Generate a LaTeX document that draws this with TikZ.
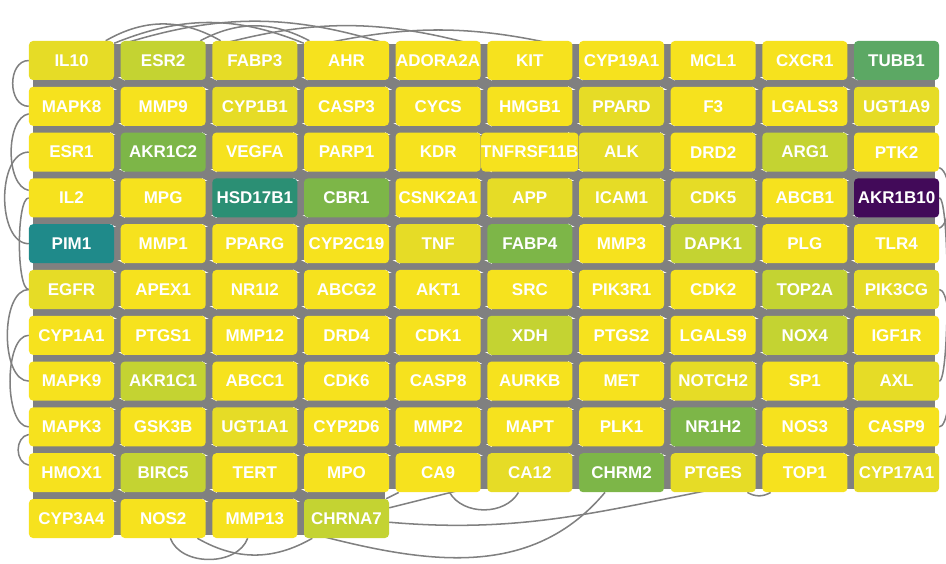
\documentclass[tikz,border=0pt]{standalone}
\usepackage{fontspec}
\setmainfont{Liberation Sans}
\usetikzlibrary{backgrounds}

\definecolor{ya}{HTML}{F6E21E}
\definecolor{yb}{HTML}{E6DC26}
\definecolor{yc}{HTML}{C4D332}
\definecolor{gr}{HTML}{7DB648}
\definecolor{gb}{HTML}{5CA864}
\definecolor{tl}{HTML}{2B8F74}
\definecolor{tm}{HTML}{1F8A8A}
\definecolor{pu}{HTML}{420A59}
\definecolor{edgegrey}{HTML}{808080}

\begin{document}
\begin{tikzpicture}[
    x=0.03cm, y=-0.03cm,
    gene/.style={rectangle, rounded corners=0.12cm, minimum width=2.55cm, minimum height=1.17cm,
                 inner sep=0pt, text=white, font=\fontsize{14.5}{16}\selectfont\bfseries},
    hbundle/.style={draw=edgegrey, line width=1.0cm},
    vbundle/.style={draw=edgegrey, line width=2.3cm},
    xbundle/.style={draw=edgegrey, line width=0.35cm},
    link/.style={draw=edgegrey, line width=1.3pt}
]
\useasboundingbox (0,0) rectangle (946,564);

% Gene nodes, row by row
\foreach \genes [count=\r] in {
  {IL10/yb,ESR2/yc,FABP3/yb,AHR/ya,ADORA2A/ya,KIT/ya,CYP19A1/ya,MCL1/ya,CXCR1/ya,TUBB1/gb},
  {MAPK8/ya,MMP9/ya,CYP1B1/yb,CASP3/ya,CYCS/ya,HMGB1/ya,PPARD/yb,F3/ya,LGALS3/ya,UGT1A9/yb},
  {ESR1/ya,AKR1C2/gr,VEGFA/ya,PARP1/ya,KDR/ya,TNFRSF11B/ya,ALK/yb,DRD2/ya,ARG1/yc,PTK2/ya},
  {IL2/ya,MPG/ya,HSD17B1/tl,CBR1/gr,CSNK2A1/ya,APP/yb,ICAM1/yb,CDK5/yb,ABCB1/ya,AKR1B10/pu},
  {PIM1/tm,MMP1/ya,PPARG/ya,CYP2C19/ya,TNF/yb,FABP4/gr,MMP3/ya,DAPK1/yc,PLG/ya,TLR4/ya},
  {EGFR/yb,APEX1/ya,NR1I2/ya,ABCG2/ya,AKT1/ya,SRC/ya,PIK3R1/ya,CDK2/ya,TOP2A/yc,PIK3CG/yb},
  {CYP1A1/ya,PTGS1/ya,MMP12/ya,DRD4/ya,CDK1/ya,XDH/yc,PTGS2/ya,LGALS9/ya,NOX4/yc,IGF1R/ya},
  {MAPK9/ya,AKR1C1/yc,ABCC1/ya,CDK6/ya,CASP8/ya,AURKB/ya,MET/ya,NOTCH2/yb,SP1/ya,AXL/yb},
  {MAPK3/ya,GSK3B/ya,UGT1A1/yb,CYP2D6/ya,MMP2/ya,MAPT/ya,PLK1/ya,NR1H2/gr,NOS3/ya,CASP9/ya},
  {HMOX1/ya,BIRC5/yc,TERT/ya,MPO/ya,CA9/ya,CA12/yb,CHRM2/gr,PTGES/yb,TOP1/ya,CYP17A1/yb},
  {CYP3A4/ya,NOS2/ya,MMP13/ya,CHRNA7/yc}}
{
  \foreach \g/\c [count=\k] in \genes
    \node[gene, fill=\c, alias=g-\r-\k] (\g) at ({71.5+91.67*(\k-1)}, {60.5+45.8*(\r-1)}) {\g};
}

\begin{pgfonlayer}{background}
% dense edges between neighbouring genes
\foreach \r in {1,...,10}
  \foreach \a/\b in {1/2,2/3,3/4,4/5,5/6,6/7,7/8,8/9,9/10}
    \draw[hbundle] (g-\r-\a.center) -- (g-\r-\b.center);
\foreach \a/\b in {1/2,2/3,3/4}
  \draw[hbundle] (g-11-\a.center) -- (g-11-\b.center);
\foreach \r/\s in {1/2,2/3,3/4,4/5,5/6,6/7,7/8,8/9,9/10}
  \foreach \a in {1,...,10}
    \draw[vbundle] (g-\r-\a.center) -- (g-\s-\a.center);
\foreach \a in {1,...,4}
  \draw[vbundle] (g-10-\a.center) -- (g-11-\a.center);
\foreach \r/\s in {1/2,2/3,3/4,4/5,5/6,6/7,7/8,8/9,9/10}
  \foreach \a/\b in {1/2,2/3,3/4,4/5,5/6,6/7,7/8,8/9,9/10}
    \draw[xbundle] (g-\r-\a.center) -- (g-\s-\b.center);
\foreach \a/\b in {1/2,2/3,3/4}
  \draw[xbundle] (g-10-\a.center) -- (g-11-\b.center);

% long edges over the top
\draw[link] (IL10) to[bend left=18] (ADORA2A);
\draw[link] (IL10) to[bend left=30] (FABP3);
\draw[link] (IL10) to[bend left=22] (AHR);
\draw[link] (ESR2) to[bend left=16] (KIT);
\draw[link] (ESR2) to[bend left=28] (AHR);
\draw[link] (FABP3) to[bend left=14] (CYP19A1);

% loops on the left
\draw[link] (IL10) to[out=180, in=180, looseness=1.2] (MAPK8);
\draw[link] (MAPK8) to[out=190, in=170, looseness=0.8] (IL2);
\draw[link] (ESR1) to[out=180, in=180, looseness=0.9] (PIM1);
\draw[link] (IL2) to[out=180, in=180, looseness=0.35] (EGFR);
\draw[link] (EGFR) to[out=180, in=180, looseness=0.8] (MAPK9);
\draw[link] (CYP1A1) to[out=180, in=180, looseness=0.7] (MAPK3);
\draw[link] (MAPK3) to[out=190, in=170, looseness=1.2] (HMOX1);

% loops on the right
\draw[link] (AKR1B10) to[out=0, in=0, looseness=0.15] (AXL);
\draw[link] (PTK2) to[out=-20, in=20, looseness=0.6] (TLR4);
\draw[link] (PIK3CG) to[out=0, in=0, looseness=0.3] (CASP9);

% edges below the last rows
\draw[link] (NOS2) to[out=-70, in=-110] (MMP13);
\draw[link] (NOS2) to[out=-30, in=-150] (CHRNA7);
\draw[link] (CA9) to[out=-60, in=-120] (CA12);
\draw[link] (PTGES) to[out=-30, in=-150] (TOP1);
\draw[link] (MMP13) to[out=-15, in=-130] (CHRM2);
\draw[link] (CHRNA7) to[out=-5, in=-170] (TOP1);
\draw[link] (CHRNA7) -- (CA9);
\draw[link] (CHRNA7) -- (CA12);
\end{pgfonlayer}

\end{tikzpicture}
\end{document}
